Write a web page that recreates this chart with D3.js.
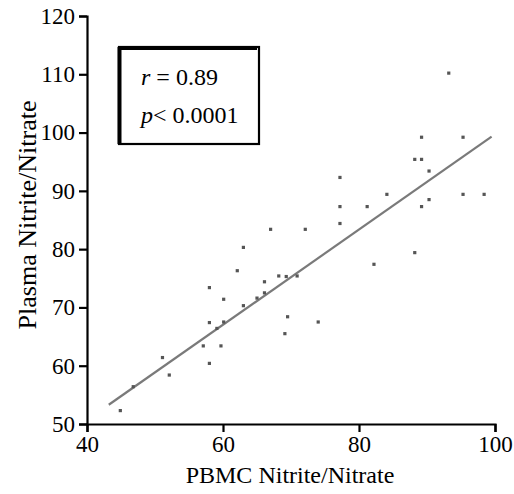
<!DOCTYPE html>
<html>
<head>
<meta charset="utf-8">
<script src="https://cdn.jsdelivr.net/npm/d3@7"></script>
<style>
  body { margin: 0; background: #fff; }
  text { font-family: "Liberation Serif", "Times New Roman", serif; fill: #000; }
</style>
</head>
<body>
<svg id="chart"></svg>
<script>
// PBMC vs plasma nitrite/nitrate
var pbmc   = [44.9, 46.8, 51.1, 52.1, 57.1, 58.0, 59.7, 58.0, 58.0, 59.1, 60.1, 60.1,
              62.1, 63.0, 63.0, 65.0, 66.1, 66.1, 67.0, 68.2, 69.3, 70.9, 69.5, 69.1,
              72.1, 74.0, 77.2, 77.2, 77.2, 81.2, 82.2, 84.1, 88.2, 88.2, 89.2, 89.2,
              89.2, 90.3, 90.3, 93.2, 95.3, 95.3, 98.4];
var plasma = [52.3, 56.4, 61.4, 58.4, 63.4, 60.4, 63.4, 67.4, 73.4, 66.4, 67.5, 71.4,
              76.3, 80.3, 70.3, 71.6, 72.5, 74.4, 83.4, 75.4, 75.3, 75.4, 68.4, 65.5,
              83.4, 67.5, 92.3, 87.3, 84.4, 87.3, 77.4, 89.4, 79.4, 95.4, 95.4, 99.2,
              87.3, 93.4, 88.5, 110.2, 99.2, 89.4, 89.4];

// fitted line ends
var fitX = [43.2, 99.5];
var fitY = [53.3, 99.3];

var xTicks = [40, 60, 80, 100];
var yTicks = [50, 60, 70, 80, 90, 100, 110, 120];
var statLines = [["r", " = 0.89"], ["p", "< 0.0001"]];

var margin = {top: 16, right: 19, bottom: 70, left: 87};
var width  = 514 - margin.left - margin.right;
var height = 494 - margin.top - margin.bottom;

var x = d3.scaleLinear().domain([40, 100]).range([0, width]);
var y = d3.scaleLinear().domain([50, 120]).range([height, 0]);

var svg = d3.select("#chart")
  .attr("width", 514)
  .attr("height", 494)
  .append("g")
  .attr("transform", "translate(" + margin.left + "," + margin.top + ")");

// regression line
svg.append("line")
  .attr("x1", x(fitX[0])).attr("y1", y(fitY[0]))
  .attr("x2", x(fitX[1])).attr("y2", y(fitY[1]))
  .attr("stroke", "#7a7a7a")
  .attr("stroke-width", 2.2);

// points
var pts = pbmc.map(function(d, i) { return {x: d, y: plasma[i]}; });
svg.selectAll(".dot")
  .data(pts)
  .enter()
  .append("rect")
  .attr("class", "dot")
  .attr("x", function(d) { return x(d.x) - 1.6; })
  .attr("y", function(d) { return y(d.y) - 1.6; })
  .attr("width", 3.2)
  .attr("height", 3.2)
  .attr("fill", "#555");

// axes
var xAxis = svg.append("g")
  .attr("transform", "translate(0," + height + ")")
  .call(d3.axisBottom(x).tickValues(xTicks).tickSize(8).tickPadding(4));
var yAxis = svg.append("g")
  .call(d3.axisLeft(y).tickValues(yTicks).tickSize(8).tickPadding(4));

[xAxis, yAxis].forEach(function(g) {
  g.select(".domain").attr("stroke", "#000").attr("stroke-width", 2.2);
  g.selectAll(".tick line").attr("stroke", "#000").attr("stroke-width", 2.2);
  g.selectAll(".tick text")
    .attr("font-family", "Liberation Serif, Times New Roman, serif")
    .attr("font-size", 23)
    .attr("fill", "#000");
});

svg.append("text")
  .attr("x", width / 2 - 1)
  .attr("y", height + 59)
  .attr("text-anchor", "middle")
  .attr("font-size", 24)
  .text("PBMC Nitrite/Nitrate");

svg.append("text")
  .attr("transform", "rotate(-90)")
  .attr("x", -height / 2 + 5)
  .attr("y", -51)
  .attr("text-anchor", "middle")
  .attr("font-size", 26)
  .text("Plasma Nitrite/Nitrate");

// stat box
var box = svg.append("g").attr("transform", "translate(" + (119 - margin.left) + "," + (47 - margin.top) + ")");
box.append("rect")
  .attr("x", 0).attr("y", 0)
  .attr("width", 140).attr("height", 97)
  .attr("fill", "#fff")
  .attr("stroke", "#000")
  .attr("stroke-width", 2.2);
box.append("line").attr("x1", 0.5).attr("y1", 0).attr("x2", 0.5).attr("y2", 97)
  .attr("stroke", "#000").attr("stroke-width", 4);
box.append("line").attr("x1", 0).attr("y1", 1).attr("x2", 138).attr("y2", 1)
  .attr("stroke", "#000").attr("stroke-width", 4);

statLines.forEach(function(s, i) {
  var t = box.append("text")
    .attr("x", 22)
    .attr("y", 38 + i * 38)
    .attr("font-size", 24);
  t.append("tspan").attr("font-style", "italic").text(s[0]);
  t.append("tspan").text(s[1]);
});
</script>
</body>
</html>
